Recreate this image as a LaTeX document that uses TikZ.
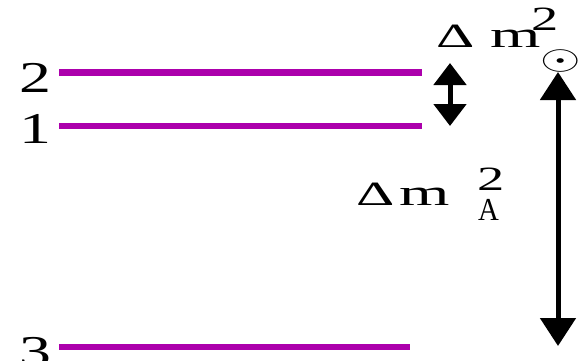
\documentclass[tikz,border=0pt]{standalone}
\usepackage{fontspec}
\setmainfont{Liberation Serif}
\usetikzlibrary{arrows.meta}
\definecolor{lev}{RGB}{172,0,172}
\newcommand{\wide}[2]{\scalebox{#1}[1]{#2}}
\begin{document}
\begin{tikzpicture}[x=1pt,y=-1pt,
  level/.style={draw=lev,line width=6.5pt},
  num/.style={font=\fontsize{44}{44}\selectfont,inner sep=0pt,anchor=base},
  lab/.style={font=\fontsize{34}{34}\selectfont,inner sep=0pt,anchor=base west},
  labm/.style={font=\fontsize{37}{37}\selectfont,inner sep=0pt,anchor=base west},
  sup/.style={font=\fontsize{34}{34}\selectfont,inner sep=0pt,anchor=base west},
  dbl/.style={line width=5pt,{Triangle[width=32pt,length=22pt]}-{Triangle[width=32pt,length=22pt]}},
  dblbig/.style={line width=5pt,{Triangle[width=35pt,length=28pt]}-{Triangle[width=35pt,length=28pt]}}]
\useasboundingbox (0,0) rectangle (578,360);
% levels
\coordinate (l2a) at (59,72.5); \coordinate (l2b) at (422,72.5);
\coordinate (l1a) at (59,126); \coordinate (l1b) at (422,126);
\coordinate (l3a) at (59,347); \coordinate (l3b) at (410,347);
\draw[level] (l2a) -- (l2b);
\draw[level] (l1a) -- (l1b);
\draw[level] (l3a) -- (l3b);
% level numbers
\node[num] (n2) at (35,92) {\wide{1.45}{2}};
\node[num] (n1) at (35,143) {\wide{1.45}{1}};
\node[num] (n3) at (35,366) {\wide{1.45}{3}};
% arrows
\coordinate (a1t) at (450,63); \coordinate (a1b) at (450,126);
\coordinate (a2t) at (558,72); \coordinate (a2b) at (558,346);
\draw[dbl] (a1t) -- (a1b);
\draw[dblbig] (a2t) -- (a2b);
% solar label
\node[lab] (dS) at (436,47) {\wide{1.75}{Δ}};
\node[labm] (mS) at (490,47) {\wide{1.75}{m}};
\node[sup] (sS) at (531,30) {\wide{1.6}{2}};
\node[inner sep=0pt] (sun) at (561,61) {\scalebox{5.2}[3.4]{$\odot$}};
% atmospheric label
\node[lab] (dA) at (356,205) {\wide{1.75}{Δ}};
\node[labm] (mA) at (399,205) {\wide{1.75}{m}};
\node[sup] (sA) at (477,190) {\wide{1.6}{2}};
\node[sup,font=\fontsize{32}{32}\selectfont] (subA) at (478,220) {\wide{0.9}{A}};
\end{tikzpicture}
\end{document}
